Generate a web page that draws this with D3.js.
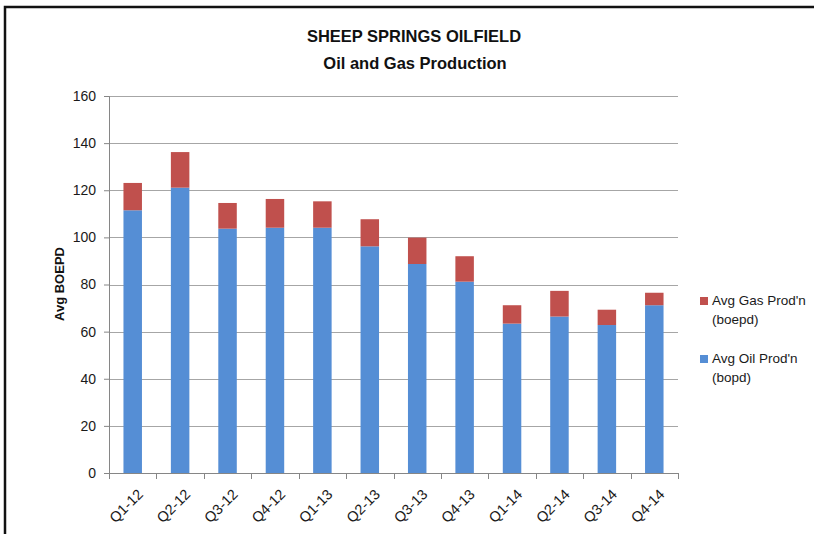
<!DOCTYPE html>
<html>
<head>
<meta charset="utf-8">
<script src="https://cdn.jsdelivr.net/npm/d3@7"></script>
<style>
  body { margin: 0; background: #fff; }
  text { font-family: "Liberation Sans", Arial, sans-serif; }
</style>
</head>
<body>
<div id="svg"></div>
<script>
const quarters = ['Q1-12', 'Q2-12', 'Q3-12', 'Q4-12', 'Q1-13', 'Q2-13', 'Q3-13', 'Q4-13', 'Q1-14', 'Q2-14', 'Q3-14', 'Q4-14']
const oilProd = [111.5, 121.1, 103.7, 104.1, 104.1, 96.2, 88.7, 81.2, 63.4, 66.4, 62.8, 71.2]
const gasProd = [11.6, 15.1, 10.9, 12.2, 11.2, 11.5, 11.2, 10.8, 7.8, 10.9, 6.5, 5.3]
const yTicks = [0, 20, 40, 60, 80, 100, 120, 140, 160]

const seriesNames = ['oil', 'gas']
const colors = {oil: '#558ED5', gas: '#C0504D'}

const margin = {top: 96, left: 109, right: 136, bottom: 61}
const width = 814, height = 534
const plotW = width - margin.left - margin.right
const plotH = height - margin.top - margin.bottom

const rows = quarters.map((q, i) => ({q: q, oil: oilProd[i], gas: gasProd[i]}))
const stacked = d3.stack().keys(seriesNames)(rows)

const svg = d3.select('#svg')
  .append('svg')
    .attr('width', width)
    .attr('height', height)

// outer frame
svg.append('rect')
  .attr('x', 5).attr('y', 7)
  .attr('width', 900).attr('height', 700)
  .attr('fill', 'none')
  .attr('stroke', '#111')
  .attr('stroke-width', 2.5)

const g = svg.append('g')
  .attr('transform', `translate(${margin.left},${margin.top})`)

const xscale = d3.scaleBand()
  .domain(quarters)
  .range([0, plotW])
  .paddingInner(0.61)
  .paddingOuter(0.305)

const yscale = d3.scaleLinear()
  .domain([0, 160])
  .range([plotH, 0])

// gridlines
g.append('g')
  .selectAll('line')
  .data(yTicks.filter(d => d > 0))
  .enter()
  .append('line')
    .attr('x1', 0)
    .attr('x2', plotW)
    .attr('y1', d => Math.round(yscale(d)) + 0.5)
    .attr('y2', d => Math.round(yscale(d)) + 0.5)
    .attr('stroke', '#a6a6a6')

// bars
g.append('g')
  .selectAll('g')
  .data(stacked)
  .enter()
  .append('g')
    .attr('fill', d => colors[d.key])
  .selectAll('rect')
  .data(d => d)
  .enter()
  .append('rect')
    .attr('x', d => xscale(d.data.q))
    .attr('width', xscale.bandwidth())
    .attr('y', d => yscale(d[1]))
    .attr('height', d => yscale(d[0]) - yscale(d[1]))

// y axis
const leftAxis = d3.axisLeft(yscale).tickValues(yTicks).tickSize(5).tickPadding(8)
const yAxisG = g.append('g').call(leftAxis)
yAxisG.select('.domain').attr('stroke', '#868686')
yAxisG.selectAll('.tick line').attr('stroke', '#868686')
yAxisG.selectAll('.tick text')
  .attr('font-size', 14)
  .attr('fill', '#1a1a1a')
  .style('font-family', '"Liberation Sans", Arial, sans-serif')

// x axis, ticks sit on category boundaries
const xAxisG = g.append('g').attr('transform', `translate(0,${plotH})`)
xAxisG.append('line')
  .attr('x1', 0).attr('x2', plotW)
  .attr('y1', 0.5).attr('y2', 0.5)
  .attr('stroke', '#868686')
xAxisG.selectAll('line.tk')
  .data(d3.range(quarters.length + 1))
  .enter()
  .append('line')
    .attr('class', 'tk')
    .attr('x1', i => Math.round(i * plotW / quarters.length) + 0.5)
    .attr('x2', i => Math.round(i * plotW / quarters.length) + 0.5)
    .attr('y1', 0)
    .attr('y2', 6)
    .attr('stroke', '#868686')
xAxisG.selectAll('text')
  .data(quarters)
  .enter()
  .append('text')
    .attr('transform', d => `translate(${xscale(d) + xscale.bandwidth() / 2 + 4},${15}) rotate(-45)`)
    .attr('text-anchor', 'end')
    .attr('dy', '0.7em')
    .attr('font-size', 14.5)
    .attr('fill', '#1a1a1a')
    .text(d => d)

// y axis title
svg.append('text')
  .attr('transform', 'translate(64,284) rotate(-90)')
  .attr('text-anchor', 'middle')
  .attr('font-size', 13)
  .attr('font-weight', 'bold')
  .attr('fill', '#111')
  .text('Avg BOEPD')

// chart title
svg.append('text')
  .attr('x', 414).attr('y', 42)
  .attr('text-anchor', 'middle')
  .attr('font-size', 16.5)
  .attr('font-weight', 'bold')
  .attr('fill', '#111')
  .text('SHEEP SPRINGS OILFIELD')
svg.append('text')
  .attr('x', 415).attr('y', 69)
  .attr('text-anchor', 'middle')
  .attr('font-size', 16.5)
  .attr('font-weight', 'bold')
  .attr('fill', '#111')
  .text('Oil and Gas Production')

// legend
const legendItems = [
  {key: 'gas', lines: ["Avg Gas Prod'n", '(boepd)'], y: 305},
  {key: 'oil', lines: ["Avg Oil Prod'n", '(bopd)'], y: 363}
]
const legend = svg.append('g')
legend.selectAll('rect')
  .data(legendItems)
  .enter()
  .append('rect')
    .attr('x', 700)
    .attr('y', d => d.y - 8)
    .attr('width', 8)
    .attr('height', 8)
    .attr('fill', d => colors[d.key])
legend.selectAll('text')
  .data(legendItems)
  .enter()
  .append('text')
    .attr('x', 712)
    .attr('y', d => d.y)
    .attr('font-size', 13.5)
    .attr('fill', '#1a1a1a')
    .each(function(d) {
      d3.select(this).selectAll('tspan')
        .data(d.lines)
        .enter()
        .append('tspan')
          .attr('x', 712)
          .attr('dy', (t, i) => i === 0 ? 0 : 19)
          .text(t => t)
    })
</script>
</body>
</html>
